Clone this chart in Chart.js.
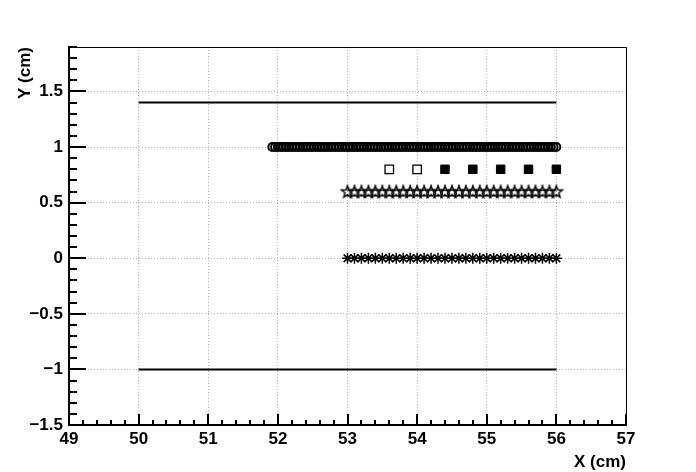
<!DOCTYPE html>
<html>
<head>
<meta charset="utf-8">
<script src="https://cdn.jsdelivr.net/npm/chart.js@4/dist/chart.umd.min.js"></script>
<style>
html,body{margin:0;padding:0;background:#fff;}
#wrap{width:696px;height:472px;position:relative;}
</style>
</head>
<body>
<div id="wrap"><canvas id="c" width="696" height="472"></canvas></div>
<script>
// ---- data ----
const xTicks = [49, 50, 51, 52, 53, 54, 55, 56, 57];
const yTicks = [-1.5, -1, -0.5, 0, 0.5, 1, 1.5];
const yTickLabels = ['\u22121.5', '\u22121', '\u22120.5', '0', '0.5', '1', '1.5'];

const lineTopX = [50, 56];
const lineTopY = [1.4, 1.4];
const lineBottomX = [50, 56];
const lineBottomY = [-1, -1];

const circleLevel = 1;
const circleX = [51.92, 51.96, 52.00, 52.04, 52.08, 52.12, 52.16, 52.20, 52.24, 52.28, 52.32, 52.36, 52.40, 52.44, 52.48,
  52.52, 52.56, 52.60, 52.64, 52.68, 52.72, 52.76, 52.80, 52.84, 52.88, 52.92, 52.96, 53.00, 53.04, 53.08, 53.12, 53.16,
  53.20, 53.24, 53.28, 53.32, 53.36, 53.40, 53.44, 53.48, 53.52, 53.56, 53.60, 53.64, 53.68, 53.72, 53.76, 53.80, 53.84,
  53.88, 53.92, 53.96, 54.00, 54.04, 54.08, 54.12, 54.16, 54.20, 54.24, 54.28, 54.32, 54.36, 54.40, 54.44, 54.48, 54.52,
  54.56, 54.60, 54.64, 54.68, 54.72, 54.76, 54.80, 54.84, 54.88, 54.92, 54.96, 55.00, 55.04, 55.08, 55.12, 55.16, 55.20,
  55.24, 55.28, 55.32, 55.36, 55.40, 55.44, 55.48, 55.52, 55.56, 55.60, 55.64, 55.68, 55.72, 55.76, 55.80, 55.84, 55.88,
  55.92, 55.96, 56.00];

const squareLevel = 0.8;
const openSquareX = [53.6, 54.0];
const filledSquareX = [54.4, 54.8, 55.2, 55.6, 56.0];

const starLevel = 0.6;
const starX = [53.0, 53.1, 53.2, 53.3, 53.4, 53.5, 53.6, 53.7, 53.8, 53.9, 54.0, 54.1, 54.2, 54.3, 54.4, 54.5,
  54.6, 54.7, 54.8, 54.9, 55.0, 55.1, 55.2, 55.3, 55.4, 55.5, 55.6, 55.7, 55.8, 55.9, 56.0];

const asteriskLevel = 0;
const asteriskX = [53.0, 53.1, 53.2, 53.3, 53.4, 53.5, 53.6, 53.7, 53.8, 53.9, 54.0, 54.1, 54.2, 54.3, 54.4, 54.5,
  54.6, 54.7, 54.8, 54.9, 55.0, 55.1, 55.2, 55.3, 55.4, 55.5, 55.6, 55.7, 55.8, 55.9, 56.0];

// ---- helpers ----
const pts = (xs, ys) => xs.map((x, i) => ({x, y: ys[i]}));
const lvl = (xs, v) => xs.map(x => ({x, y: v}));

function makeOpenStar() {
  const c = document.createElement('canvas');
  c.width = 16; c.height = 16;
  const g = c.getContext('2d');
  g.strokeStyle = '#000'; g.lineWidth = 1.4;
  g.beginPath();
  for (let i = 0; i < 10; i++) {
    const r = i % 2 ? 2.6 : 6.4;
    const a = -Math.PI / 2 + i * Math.PI / 5;
    const px = 8 + r * Math.cos(a), py = 8.5 + r * Math.sin(a);
    if (i) g.lineTo(px, py); else g.moveTo(px, py);
  }
  g.closePath(); g.stroke();
  return c;
}

const FONT = '"Liberation Sans", Arial, Helvetica, sans-serif';

const axisDecor = {
  id: 'axisDecor',
  afterDraw(chart) {
    const {ctx, chartArea: a, scales: {x, y}} = chart;
    ctx.save();
    ctx.strokeStyle = '#000';
    // frame top/right
    ctx.lineWidth = 1;
    ctx.beginPath();
    ctx.moveTo(a.left, a.top + 0.5); ctx.lineTo(a.right + 0.5, a.top + 0.5); ctx.lineTo(a.right + 0.5, a.bottom);
    ctx.stroke();
    // y ticks (inward)
    ctx.lineWidth = 2;
    for (let k = -15; k <= 19; k++) {
      const v = k / 10;
      const p = Math.round(y.getPixelForValue(v));
      const major = k % 5 === 0;
      ctx.beginPath(); ctx.moveTo(a.left, p); ctx.lineTo(a.left + (major ? 17 : 8), p); ctx.stroke();
    }
    // x ticks (inward)
    for (let k = 0; k <= 40; k++) {
      const v = 49 + k / 5;
      const p = Math.round(x.getPixelForValue(v));
      const major = k % 5 === 0;
      ctx.beginPath(); ctx.moveTo(p, a.bottom); ctx.lineTo(p, a.bottom - (major ? 11 : 5)); ctx.stroke();
    }
    // axis titles
    ctx.fillStyle = '#000';
    ctx.font = 'bold 17px ' + FONT;
    ctx.textAlign = 'right'; ctx.textBaseline = 'alphabetic';
    ctx.fillText('X (cm)', a.right, 467);
    ctx.translate(30, 47);
    ctx.rotate(-Math.PI / 2);
    ctx.fillText('Y (cm)', 0, 0);
    ctx.restore();
  }
};

const blk = '#000';
const GRID = '#b4b4b4';
new Chart(document.getElementById('c'), {
  type: 'scatter',
  data: {
    datasets: [
      {data: pts(lineTopX, lineTopY), showLine: true, borderColor: blk, borderWidth: 2, pointRadius: 0},
      {data: pts(lineBottomX, lineBottomY), showLine: true, borderColor: blk, borderWidth: 2, pointRadius: 0},
      {data: lvl(circleX, circleLevel), pointStyle: 'circle', pointRadius: 4, borderColor: blk, borderWidth: 2, backgroundColor: 'rgba(0,0,0,0)'},
      {data: lvl(openSquareX, squareLevel), pointStyle: 'rect', pointRadius: 6, borderColor: blk, borderWidth: 1.3, backgroundColor: '#fff'},
      {data: lvl(filledSquareX, squareLevel), pointStyle: 'rect', pointRadius: 6, borderColor: blk, borderWidth: 1, backgroundColor: blk},
      {data: lvl(starX, starLevel), pointStyle: makeOpenStar(), pointRadius: 6},
      {data: lvl(asteriskX, asteriskLevel), pointStyle: 'star', pointRadius: 5.5, borderColor: blk, borderWidth: 1.5}
    ]
  },
  options: {
    responsive: false,
    animation: false,
    events: [],
    layout: {padding: {left: 0, top: 47, right: 70, bottom: 0}},
    plugins: {legend: {display: false}, tooltip: {enabled: false}},
    scales: {
      x: {
        type: 'linear', min: 49, max: 57,
        afterBuildTicks: s => { s.ticks = xTicks.map(v => ({value: v})); },
        afterFit: s => { s.height = 47; },
        grid: {color: GRID, lineWidth: 1, drawTicks: false},
        border: {display: true, color: '#000', width: 2, dash: [1, 2]},
        ticks: {padding: 4, color: '#000', font: {family: FONT, weight: 'bold', size: 17}, maxRotation: 0, autoSkip: false,
          callback: v => String(v)}
      },
      y: {
        type: 'linear', min: -1.5, max: 1.9,
        afterBuildTicks: s => { s.ticks = yTicks.map(v => ({value: v})); },
        afterFit: s => { s.width = 69; },
        grid: {color: GRID, lineWidth: 1, drawTicks: false},
        border: {display: true, color: '#000', width: 2, dash: [1, 2]},
        ticks: {padding: 6, color: '#000', font: {family: FONT, weight: 'bold', size: 17}, autoSkip: false,
          callback: v => { const i = yTicks.indexOf(v); return i >= 0 ? yTickLabels[i] : ''; }}
      }
    }
  },
  plugins: [axisDecor]
});
</script>
</body>
</html>
